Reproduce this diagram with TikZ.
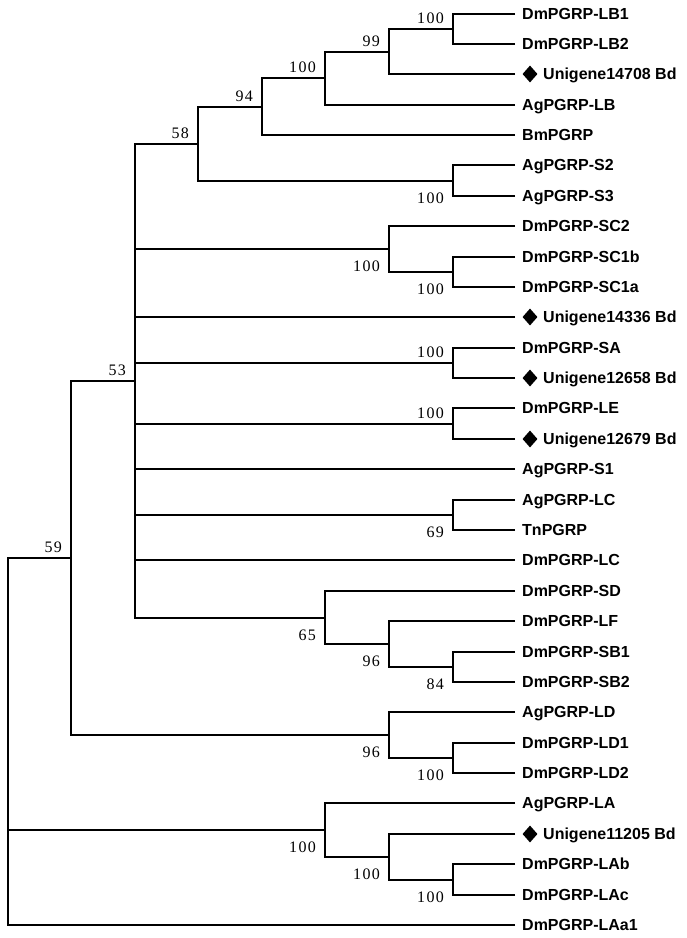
\documentclass[tikz,border=0pt]{standalone}
\usepackage{fontspec}
\setmainfont{Liberation Sans}
\newfontfamily\bsfont[LetterSpace=8]{Liberation Serif}
\usetikzlibrary{shapes.geometric}
\begin{document}
\begin{tikzpicture}[x=1pt,y=-1pt,
  br/.style={line width=2pt, line join=miter, black},
  lab/.style={anchor=base west, inner sep=0pt, font=\fontsize{16}{16}\selectfont\bfseries, yshift=-5.7pt},
  leaf/.style={lab, xshift=7pt},
  uleaf/.style={lab, xshift=28pt},
  diam/.style={diamond, fill=black, draw=none, inner sep=0pt, minimum width=15pt, minimum height=17pt},
  bsa/.style={anchor=base east, inner sep=0pt, font=\bsfont\fontsize{16}{16}\selectfont, xshift=-9pt, yshift=5.5pt},
  bsb/.style={anchor=base east, inner sep=0pt, font=\bsfont\fontsize{16}{16}\selectfont, xshift=-9pt, yshift=-22pt}]
\useasboundingbox (0,0) rectangle (687,938);
% leaf tips
\coordinate (t0) at (515,14);
\coordinate (t1) at (515,44);
\coordinate (t2) at (515,74);
\coordinate (t3) at (515,105);
\coordinate (t4) at (515,135);
\coordinate (t5) at (515,165);
\coordinate (t6) at (515,196);
\coordinate (t7) at (515,226);
\coordinate (t8) at (515,257);
\coordinate (t9) at (515,287);
\coordinate (t10) at (515,317);
\coordinate (t11) at (515,348);
\coordinate (t12) at (515,378);
\coordinate (t13) at (515,408);
\coordinate (t14) at (515,439);
\coordinate (t15) at (515,469);
\coordinate (t16) at (515,500);
\coordinate (t17) at (515,530);
\coordinate (t18) at (515,560);
\coordinate (t19) at (515,591);
\coordinate (t20) at (515,621);
\coordinate (t21) at (515,652);
\coordinate (t22) at (515,682);
\coordinate (t23) at (515,712);
\coordinate (t24) at (515,743);
\coordinate (t25) at (515,773);
\coordinate (t26) at (515,803);
\coordinate (t27) at (515,834);
\coordinate (t28) at (515,864);
\coordinate (t29) at (515,895);
\coordinate (t30) at (515,925);
% internal nodes
\coordinate (nLB12) at (453,29);
\coordinate (n99) at (389,52);
\coordinate (nLB) at (325,78);
\coordinate (n94) at (262,107);
\coordinate (nS23) at (453,181);
\coordinate (n58) at (198,144);
\coordinate (nSC1) at (453,272);
\coordinate (nSC) at (389,249);
\coordinate (nSA) at (453,363);
\coordinate (nLE) at (453,424);
\coordinate (nLC) at (453,515);
\coordinate (nSB) at (453,667);
\coordinate (n96a) at (389,644);
\coordinate (n65) at (325,618);
\coordinate (n53) at (135,381);
\coordinate (nLD12) at (453,758);
\coordinate (n96b) at (389,735);
\coordinate (n59) at (71,558);
\coordinate (nLAbc) at (453,880);
\coordinate (nU) at (389,857);
\coordinate (nLA) at (325,830);
\coordinate (root) at (8,830);
% leaf labels
\node[leaf] (L0) at (t0) {DmPGRP-LB1};
\node[leaf] (L1) at (t1) {DmPGRP-LB2};
\node[diam] (d2) at ([xshift=15pt]t2) {};
\node[uleaf] (L2) at (t2) {Unigene14708 Bd};
\node[leaf] (L3) at (t3) {AgPGRP-LB};
\node[leaf] (L4) at (t4) {BmPGRP};
\node[leaf] (L5) at (t5) {AgPGRP-S2};
\node[leaf] (L6) at (t6) {AgPGRP-S3};
\node[leaf] (L7) at (t7) {DmPGRP-SC2};
\node[leaf] (L8) at (t8) {DmPGRP-SC1b};
\node[leaf] (L9) at (t9) {DmPGRP-SC1a};
\node[diam] (d10) at ([xshift=15pt]t10) {};
\node[uleaf] (L10) at (t10) {Unigene14336 Bd};
\node[leaf] (L11) at (t11) {DmPGRP-SA};
\node[diam] (d12) at ([xshift=15pt]t12) {};
\node[uleaf] (L12) at (t12) {Unigene12658 Bd};
\node[leaf] (L13) at (t13) {DmPGRP-LE};
\node[diam] (d14) at ([xshift=15pt]t14) {};
\node[uleaf] (L14) at (t14) {Unigene12679 Bd};
\node[leaf] (L15) at (t15) {AgPGRP-S1};
\node[leaf] (L16) at (t16) {AgPGRP-LC};
\node[leaf] (L17) at (t17) {TnPGRP};
\node[leaf] (L18) at (t18) {DmPGRP-LC};
\node[leaf] (L19) at (t19) {DmPGRP-SD};
\node[leaf] (L20) at (t20) {DmPGRP-LF};
\node[leaf] (L21) at (t21) {DmPGRP-SB1};
\node[leaf] (L22) at (t22) {DmPGRP-SB2};
\node[leaf] (L23) at (t23) {AgPGRP-LD};
\node[leaf] (L24) at (t24) {DmPGRP-LD1};
\node[leaf] (L25) at (t25) {DmPGRP-LD2};
\node[leaf] (L26) at (t26) {AgPGRP-LA};
\node[diam] (d27) at ([xshift=15pt]t27) {};
\node[uleaf] (L27) at (t27) {Unigene11205 Bd};
\node[leaf] (L28) at (t28) {DmPGRP-LAb};
\node[leaf] (L29) at (t29) {DmPGRP-LAc};
\node[leaf] (L30) at (t30) {DmPGRP-LAa1};
% branches
\draw[br] (t0) -| (nLB12); \draw[br] (t1) -| (nLB12);
\draw[br] (nLB12) -| (n99); \draw[br] (t2) -| (n99);
\draw[br] (n99) -| (nLB); \draw[br] (t3) -| (nLB);
\draw[br] (nLB) -| (n94); \draw[br] (t4) -| (n94);
\draw[br] (t5) -| (nS23); \draw[br] (t6) -| (nS23);
\draw[br] (n94) -| (n58); \draw[br] (nS23) -| (n58);
\draw[br] (t8) -| (nSC1); \draw[br] (t9) -| (nSC1);
\draw[br] (t7) -| (nSC); \draw[br] (nSC1) -| (nSC);
\draw[br] (t11) -| (nSA); \draw[br] (t12) -| (nSA);
\draw[br] (t13) -| (nLE); \draw[br] (t14) -| (nLE);
\draw[br] (t16) -| (nLC); \draw[br] (t17) -| (nLC);
\draw[br] (t21) -| (nSB); \draw[br] (t22) -| (nSB);
\draw[br] (t20) -| (n96a); \draw[br] (nSB) -| (n96a);
\draw[br] (t19) -| (n65); \draw[br] (n96a) -| (n65);
\draw[br] (n58) -| (n53); \draw[br] (nSC) -| (n53); \draw[br] (t10) -| (n53);
\draw[br] (nSA) -| (n53); \draw[br] (nLE) -| (n53); \draw[br] (t15) -| (n53);
\draw[br] (nLC) -| (n53); \draw[br] (t18) -| (n53); \draw[br] (n65) -| (n53);
\draw[br] (t24) -| (nLD12); \draw[br] (t25) -| (nLD12);
\draw[br] (t23) -| (n96b); \draw[br] (nLD12) -| (n96b);
\draw[br] (n53) -| (n59); \draw[br] (n96b) -| (n59);
\draw[br] (t28) -| (nLAbc); \draw[br] (t29) -| (nLAbc);
\draw[br] (t27) -| (nU); \draw[br] (nLAbc) -| (nU);
\draw[br] (t26) -| (nLA); \draw[br] (nU) -| (nLA);
\draw[br] (n59) -| (root); \draw[br] (nLA) -| (root); \draw[br] (t30) -| (root);
% bootstrap values
\node[bsa] (b1) at (nLB12) {100};
\node[bsa] (b2) at (n99) {99};
\node[bsa] (b3) at (nLB) {100};
\node[bsa] (b4) at (n94) {94};
\node[bsa] (b5) at (n58) {58};
\node[bsb] (b6) at (nS23) {100};
\node[bsb] (b7) at (nSC) {100};
\node[bsb] (b8) at (nSC1) {100};
\node[bsa] (b9) at (n53) {53};
\node[bsa] (b10) at (nSA) {100};
\node[bsa] (b11) at (nLE) {100};
\node[bsb] (b12) at (nLC) {69};
\node[bsb] (b13) at (n65) {65};
\node[bsb] (b14) at (n96a) {96};
\node[bsb] (b15) at (nSB) {84};
\node[bsa] (b16) at (n59) {59};
\node[bsb] (b17) at (n96b) {96};
\node[bsb] (b18) at (nLD12) {100};
\node[bsb] (b19) at (nLA) {100};
\node[bsb] (b20) at (nU) {100};
\node[bsb] (b21) at (nLAbc) {100};
\end{tikzpicture}
\end{document}
